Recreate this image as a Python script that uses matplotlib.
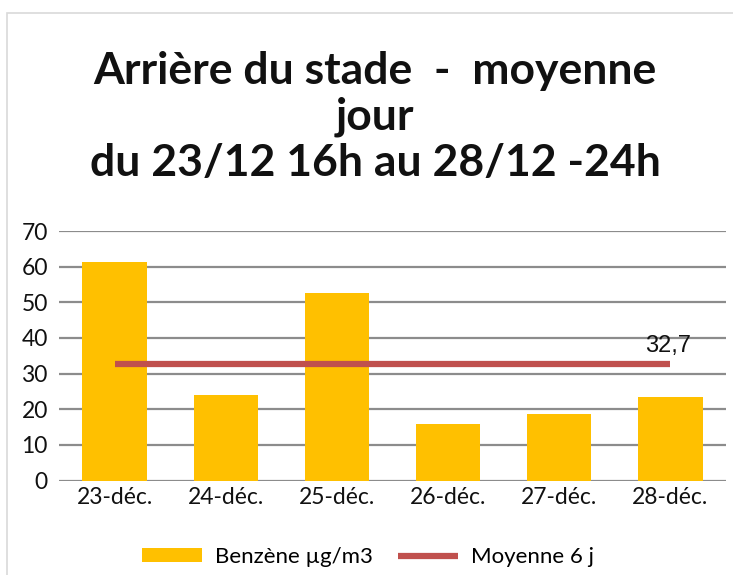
import numpy as np
import matplotlib.pyplot as plt
from matplotlib.patches import Rectangle

# Données
jours = ["23-déc.", "24-déc.", "25-déc.", "26-déc.", "27-déc.", "28-déc."]
benzene = [61.3, 24.0, 52.6, 15.8, 18.6, 23.4]
moyenne = [32.7, 32.7, 32.7, 32.7, 32.7, 32.7]
yticks = [0, 10, 20, 30, 40, 50, 60, 70]

jaune = "#FFC000"
rouge = "#C0504D"

fig = plt.figure(figsize=(7.33, 5.75), dpi=100)
ax = fig.add_axes([59 / 733, 1 - 480.5 / 575, 667 / 733, 249.5 / 575])

x = np.arange(len(jours))
barres = ax.bar(x, benzene, width=0.58, color=jaune, zorder=3, label="Benzène µg/m3")
ligne, = ax.plot(x, moyenne, color=rouge, lw=4.5, solid_capstyle="butt", zorder=4, label="Moyenne 6 j")
ax.text(x[-1] - 0.02, moyenne[-1] + 1.9, f"{moyenne[-1]:.1f}".replace(".", ","), ha="center", va="bottom",
        fontsize=17, family="Liberation Sans", color="#111111", zorder=5)

ax.set_xlim(-0.5, len(jours) - 0.5)
ax.set_ylim(0, 70)
ax.set_yticks(yticks)
ax.set_xticks(x)
ax.set_xticklabels(jours)
ax.yaxis.grid(True, color="#8c8c8c", lw=1.6, zorder=0)
ax.set_axisbelow(True)
for s in ax.spines.values():
    s.set_visible(False)
ax.tick_params(length=0, labelsize=16.5, colors="#111111")
for lab in ax.get_xticklabels() + ax.get_yticklabels():
    lab.set_family("Lato")
ax.tick_params(axis="x", pad=5)
ax.tick_params(axis="y", pad=8)

# Titre
fig.text(375 / 733, 1 - 117 / 575, "Arrière du stade  -  moyenne\njour\ndu 23/12 16h au 28/12 -24h",
         ha="center", va="center", fontsize=32, fontweight="bold", family="Lato",
         linespacing=1.17, color="#111111")

# Légende
fig.legend([barres, ligne], ["Benzène µg/m3", "Moyenne 6 j"], loc="center",
           bbox_to_anchor=(368 / 733, 1 - 557 / 575), ncol=2, frameon=False,
           prop={"family": "Lato", "size": 16}, handlelength=2.7, handleheight=0.6,
           columnspacing=1.1, handletextpad=0.6)

# Cadre du graphique
fig.patches.append(Rectangle((7 / 733, -0.1), 2, 1 - 13 / 575 + 0.1, transform=fig.transFigure,
                             fill=False, edgecolor="#d9d9d9", lw=1.2))

fig.savefig("out.png", dpi=100)
